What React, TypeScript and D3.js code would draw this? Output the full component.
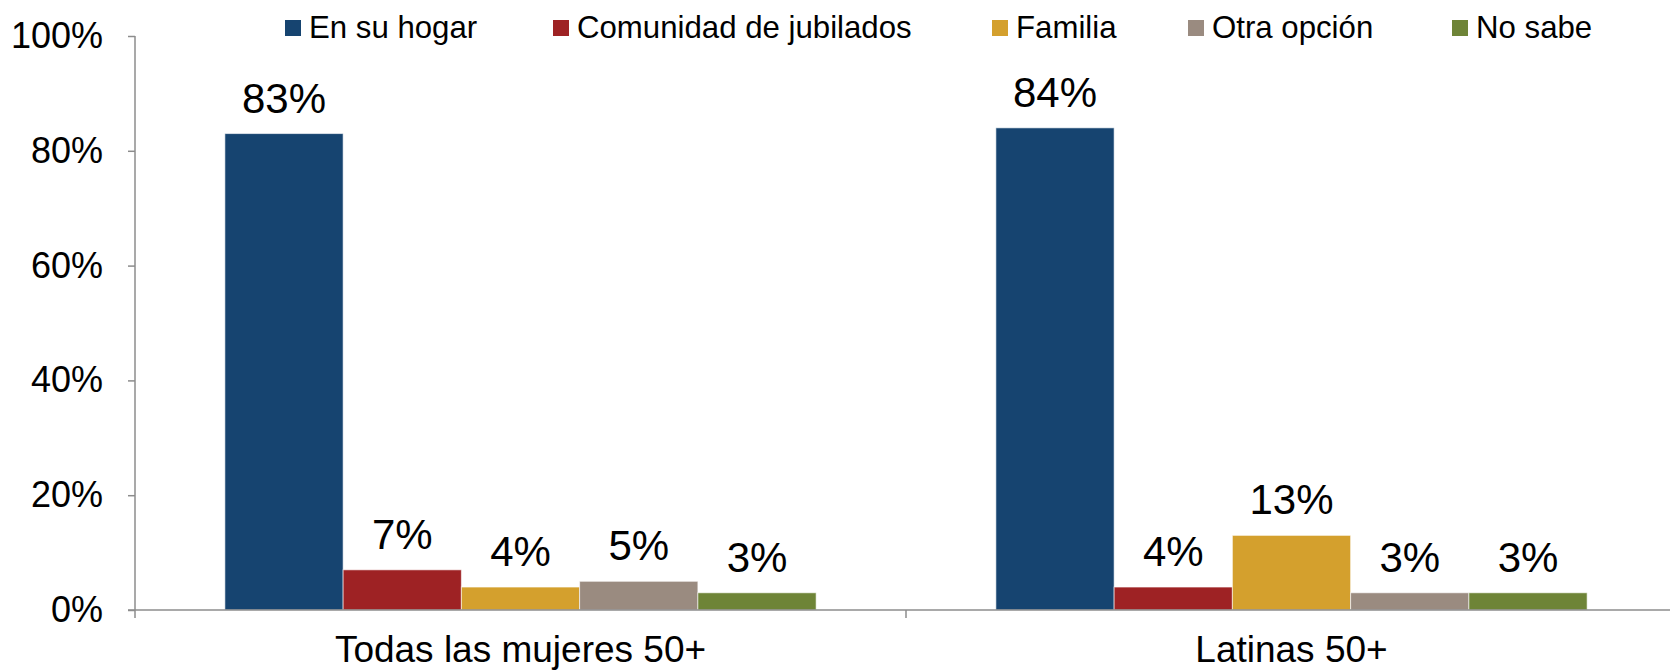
import React, { useEffect, useRef } from 'react';
import * as d3 from 'd3';

// categories and series
const categories = ['Todas las mujeres 50+', 'Latinas 50+'];
const series = ['En su hogar', 'Comunidad de jubilados', 'Familia', 'Otra opción', 'No sabe'];
const colors = ['#164470', '#9E2224', '#D4A02D', '#9A8B80', '#6E8437'];

// values per series, one entry per category
const enSuHogar = [0.83, 0.84];
const comunidad = [0.07, 0.04];
const familia = [0.04, 0.13];
const otra = [0.05, 0.03];
const noSabe = [0.03, 0.03];
const values = [enSuHogar, comunidad, familia, otra, noSabe];

const yTicks = [0, 0.2, 0.4, 0.6, 0.8, 1];

// legend swatch positions (layout, not data)
const legendX = [285, 553, 992, 1188, 1452];

const W = 1670;
const H = 671;
const FONT = '"Liberation Sans", Arial, sans-serif';

function App() {
  const ref = useRef<SVGSVGElement>(null);

  useEffect(() => {
    const svg = d3.select(ref.current);
    svg.selectAll('*').remove();

    const left = 135;
    const right = 1677;
    const top = 36;
    const bottom = 610;

    const x0 = d3.scaleBand().domain(categories).range([left, right]);
    const x1 = d3.scaleBand().domain(series).range([0, x0.bandwidth()]).paddingOuter(0.76);
    const y = d3.scaleLinear().domain([0, 1]).range([bottom, top]);

    // bars
    const groups = svg.append('g')
      .selectAll('g')
      .data(categories)
      .enter()
      .append('g')
      .attr('transform', d => 'translate(' + x0(d) + ',0)');

    groups.selectAll('rect')
      .data((c, ci) => series.map((s, si) => ({ s, si, v: values[si][ci] })))
      .enter()
      .append('rect')
      .attr('x', d => x1(d.s)!)
      .attr('width', x1.bandwidth())
      .attr('y', d => y(d.v))
      .attr('height', d => bottom - y(d.v))
      .style('fill', d => colors[d.si])
      .style('stroke', 'rgba(255,255,255,0.6)')
      .style('stroke-width', 1);

    groups.selectAll('text')
      .data((c, ci) => series.map((s, si) => ({ s, si, v: values[si][ci] })))
      .enter()
      .append('text')
      .attr('x', d => x1(d.s)! + x1.bandwidth() / 2)
      .attr('y', d => y(d.v) - 21)
      .attr('text-anchor', 'middle')
      .style('font-family', FONT)
      .style('font-size', '42px')
      .style('fill', '#000')
      .text(d => Math.round(d.v * 100) + '%');

    // y axis
    const yAxis = d3.axisLeft(y)
      .tickValues(yTicks)
      .tickSize(7)
      .tickPadding(25)
      .tickFormat(d => Math.round(+d * 100) + '%');
    const yg = svg.append('g').attr('transform', 'translate(' + left + ',0)');
    yAxis(yg);
    yg.select('.domain').remove();
    yg.selectAll('line').style('stroke', '#8c8c8c').style('stroke-width', 1.5);
    yg.selectAll('text')
      .style('font-family', FONT)
      .style('font-size', '36px')
      .style('fill', '#000');
    yg.append('line')
      .attr('x1', 0).attr('x2', 0)
      .attr('y1', top).attr('y2', bottom + 8)
      .style('stroke', '#8c8c8c').style('stroke-width', 1.5);

    // x axis
    const xg = svg.append('g');
    xg.append('line')
      .attr('x1', left - 7).attr('x2', W)
      .attr('y1', bottom).attr('y2', bottom)
      .style('stroke', '#8c8c8c').style('stroke-width', 1.5);
    xg.selectAll('line.sep')
      .data(categories.slice(1))
      .enter()
      .append('line')
      .attr('class', 'sep')
      .attr('x1', d => x0(d)!).attr('x2', d => x0(d)!)
      .attr('y1', bottom).attr('y2', bottom + 8)
      .style('stroke', '#8c8c8c').style('stroke-width', 1.5);
    xg.selectAll('text')
      .data(categories)
      .enter()
      .append('text')
      .attr('x', d => x0(d)! + x0.bandwidth() / 2)
      .attr('y', 662)
      .attr('text-anchor', 'middle')
      .style('font-family', FONT)
      .style('font-size', '37px')
      .style('fill', '#000')
      .text(d => d);

    // legend
    const lg = svg.append('g');
    series.forEach((s, i) => {
      const lx = legendX[i];
      lg.append('rect')
        .attr('x', lx).attr('y', 20)
        .attr('width', 16).attr('height', 16)
        .style('fill', colors[i]);
      lg.append('text')
        .attr('x', lx + 24).attr('y', 38)
        .style('font-family', FONT)
        .style('font-size', '31.2px')
        .style('fill', '#000')
        .text(s);
    });
  }, []);

  return (
    <svg
      ref={ref}
      width={W}
      height={H}
      style={{ position: 'absolute', left: 0, top: 0, background: '#fff' }}
    />
  );
}

export default App;
